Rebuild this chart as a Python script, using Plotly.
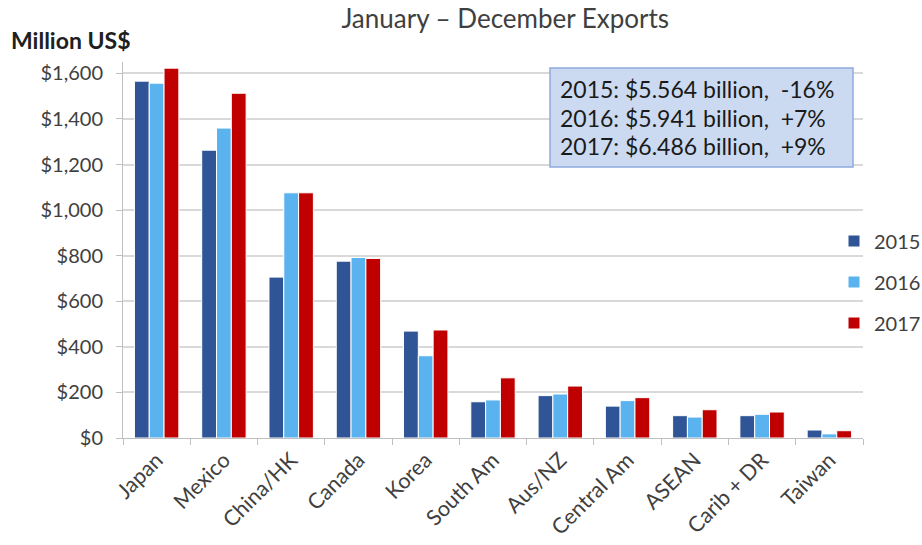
import plotly.graph_objects as go

categories = ["Japan", "Mexico", "China/HK", "Canada", "Korea", "South Am",
              "Aus/NZ", "Central Am", "ASEAN", "Carib + DR", "Taiwan"]
years = ["2015", "2016", "2017"]
v2015 = [1566, 1263, 706, 776, 469, 159, 186, 140, 98, 98, 35]
v2016 = [1557, 1360, 1076, 792, 361, 167, 193, 164, 92, 104, 18]
v2017 = [1623, 1513, 1076, 788, 474, 264, 228, 177, 124, 114, 32]
colors = ["#2F5597", "#5AB2EF", "#C00000"]
summary = ["2015: $5.564 billion,  -16%",
           "2016: $5.941 billion,  +7%",
           "2017: $6.486 billion,  +9%"]
yticks = [0, 200, 400, 600, 800, 1000, 1200, 1400, 1600]

FONT = "Lato, Open Sans, sans-serif"
PL, PR, PT, PB = 123, 863, 62, 438   # plot area in pixels
PW, PH = PR - PL, PB - PT

def px(x):
    return (x - PL) / PW

def py(y):
    return (PB - y) / PH

fig = go.Figure()
for name, vals, col in zip(years, [v2015, v2016, v2017], colors):
    fig.add_trace(go.Bar(x=categories, y=vals, name=name, legendgroup=name,
                         marker=dict(color=col, line=dict(color="white", width=1))))

fig.update_layout(
    width=922, height=545,
    margin=dict(l=PL, r=922 - PR, t=PT, b=545 - PB, autoexpand=False),
    paper_bgcolor="white", plot_bgcolor="white",
    barmode="group", bargap=0.34, bargroupgap=0.0,
    font=dict(family=FONT, size=20, color="#404040"),
    title=dict(text="January \u2013 December Exports", x=0.548, xanchor="center",
               y=0.965, yanchor="middle", font=dict(size=26, color="#404040")),
    legend=dict(x=px(834), xanchor="left", y=py(282), yanchor="middle",
                font=dict(size=20, color="#404040"), traceorder="grouped",
                tracegroupgap=12, itemwidth=30, bgcolor="rgba(0,0,0,0)"),
    xaxis=dict(type="category", tickson="boundaries", ticks="outside", ticklen=6,
               tickcolor="#BFBFBF", showline=True, linecolor="#BFBFBF",
               tickangle=-45, tickfont=dict(size=21.5, color="#404040"),
               showgrid=False),
    yaxis=dict(range=[0, 1650], tickvals=yticks,
               ticktext=["$" + format(v, ",") for v in yticks],
               ticks="outside", ticklen=6, tickcolor="#BFBFBF",
               ticklabelstandoff=9,
               showline=True, linecolor="#BFBFBF", gridcolor="#D9D9D9",
               gridwidth=1.5, zeroline=False,
               tickfont=dict(size=20, color="#404040")),
)

fig.add_annotation(text="<b>Million US$</b>", xref="paper", yref="paper",
                   x=px(9), y=py(40), xanchor="left", yanchor="middle",
                   showarrow=False, font=dict(size=23, color="#202020"))

# summary box
fig.add_shape(type="rect", xref="paper", yref="paper",
              x0=px(550), x1=px(853), y0=py(167), y1=py(68),
              fillcolor="#CCDAF1", line=dict(color="#8FAADC", width=1.5), layer="above")
for i, line in enumerate(summary):
    fig.add_annotation(text=line, xref="paper", yref="paper",
                       x=px(558), y=py(89 + 28.5 * i),
                       xanchor="left", yanchor="middle", showarrow=False,
                       font=dict(size=23, color="#1A1A1A"))

fig.write_html("out.html")
